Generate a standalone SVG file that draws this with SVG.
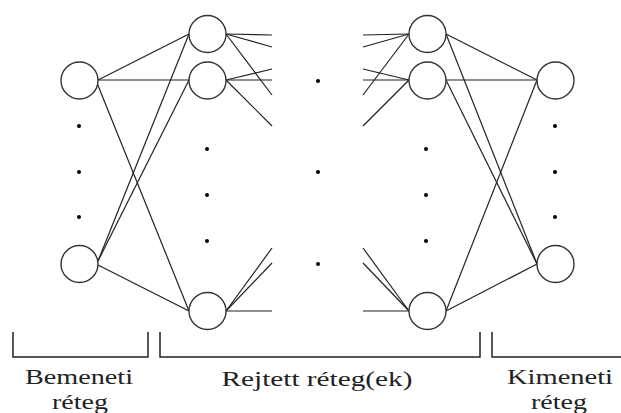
<svg xmlns="http://www.w3.org/2000/svg" width="621" height="413" viewBox="0 0 621 413">
<style>
.n{fill:#fff;stroke:#333;stroke-width:1.4}
.c line{stroke:#222;stroke-width:1.2}
.d{fill:#000}
.b{fill:none;stroke:#222;stroke-width:1.5}
.t{font-size:22px;fill:#222;text-anchor:middle}
</style>
<rect width="621" height="413" fill="#fff"/>
<g id="connectors" class="c">
<line x1="98" y1="80" x2="189" y2="34"/>
<line x1="98" y1="80" x2="189" y2="80"/>
<line x1="97" y1="83" x2="189" y2="311"/>
<line x1="98" y1="261" x2="189" y2="34"/>
<line x1="98" y1="261" x2="189" y2="80"/>
<line x1="98" y1="265" x2="189" y2="311"/>
<line x1="226" y1="34" x2="272" y2="35"/>
<line x1="226" y1="34" x2="272" y2="47"/>
<line x1="226" y1="34" x2="272" y2="95"/>
<line x1="226" y1="80" x2="272" y2="69"/>
<line x1="226" y1="80" x2="272" y2="80"/>
<line x1="226" y1="80" x2="272" y2="126"/>
<line x1="226" y1="311" x2="272" y2="248"/>
<line x1="226" y1="311" x2="272" y2="263"/>
<line x1="226" y1="311" x2="272" y2="311"/>
<line x1="363" y1="35" x2="409" y2="34"/>
<line x1="363" y1="47" x2="409" y2="34"/>
<line x1="363" y1="95" x2="409" y2="34"/>
<line x1="363" y1="69" x2="409" y2="80"/>
<line x1="363" y1="80" x2="409" y2="80"/>
<line x1="363" y1="126" x2="409" y2="80"/>
<line x1="363" y1="248" x2="409" y2="311"/>
<line x1="363" y1="263" x2="409" y2="311"/>
<line x1="363" y1="311" x2="409" y2="311"/>
<line x1="446" y1="34" x2="537" y2="80"/>
<line x1="446" y1="80" x2="537" y2="80"/>
<line x1="446" y1="34" x2="537" y2="264"/>
<line x1="446" y1="80" x2="537" y2="264"/>
<line x1="537" y1="80" x2="446" y2="311"/>
<line x1="446" y1="311" x2="537" y2="264"/>
</g>
<g id="in1"><circle class="n" cx="79.5" cy="80.5" r="18.5"/></g>
<g id="in2"><circle class="n" cx="79.5" cy="264" r="18.5"/></g>
<g id="h1a"><circle class="n" cx="207.5" cy="34" r="18.5"/></g>
<g id="h1b"><circle class="n" cx="207.5" cy="80.5" r="18.5"/></g>
<g id="h1c"><circle class="n" cx="207.5" cy="311" r="18.5"/></g>
<g id="h2a"><circle class="n" cx="427.5" cy="34" r="18.5"/></g>
<g id="h2b"><circle class="n" cx="427.5" cy="80.5" r="18.5"/></g>
<g id="h2c"><circle class="n" cx="427.5" cy="311" r="18.5"/></g>
<g id="out1"><circle class="n" cx="555.5" cy="80.5" r="18.5"/></g>
<g id="out2"><circle class="n" cx="555.5" cy="264" r="18.5"/></g>
<g id="dots">
<circle class="d" cx="79" cy="126" r="2"/>
<circle class="d" cx="79" cy="172" r="2"/>
<circle class="d" cx="79" cy="217" r="2"/>
<circle class="d" cx="207" cy="149" r="2"/>
<circle class="d" cx="207" cy="195" r="2"/>
<circle class="d" cx="207" cy="241" r="2"/>
<circle class="d" cx="318" cy="81" r="2"/>
<circle class="d" cx="318" cy="172" r="2"/>
<circle class="d" cx="318" cy="264" r="2"/>
<circle class="d" cx="426" cy="149" r="2"/>
<circle class="d" cx="426" cy="195" r="2"/>
<circle class="d" cx="426" cy="241" r="2"/>
<circle class="d" cx="555" cy="126" r="2"/>
<circle class="d" cx="555" cy="172" r="2"/>
<circle class="d" cx="555" cy="217" r="2"/>
</g>
<g id="brackets">
<path class="b" d="M13,332 V357 H148 V332"/>
<path class="b" d="M160,332 V357 H480 V332"/>
<path class="b" d="M492,332 V357 H621"/>
</g>
<g id="labels" font-family="'Liberation Serif', 'DejaVu Serif', serif">
<text class="t" x="79" y="384" textLength="108" lengthAdjust="spacingAndGlyphs">Bemeneti</text>
<text class="t" x="80" y="408.5" textLength="56" lengthAdjust="spacingAndGlyphs">réteg</text>
<text class="t" x="317" y="386" textLength="191" lengthAdjust="spacingAndGlyphs">Rejtett réteg(ek)</text>
<text class="t" x="560" y="384" textLength="106" lengthAdjust="spacingAndGlyphs">Kimeneti</text>
<text class="t" x="559" y="408.5" textLength="56" lengthAdjust="spacingAndGlyphs">réteg</text>
</g>
</svg>
